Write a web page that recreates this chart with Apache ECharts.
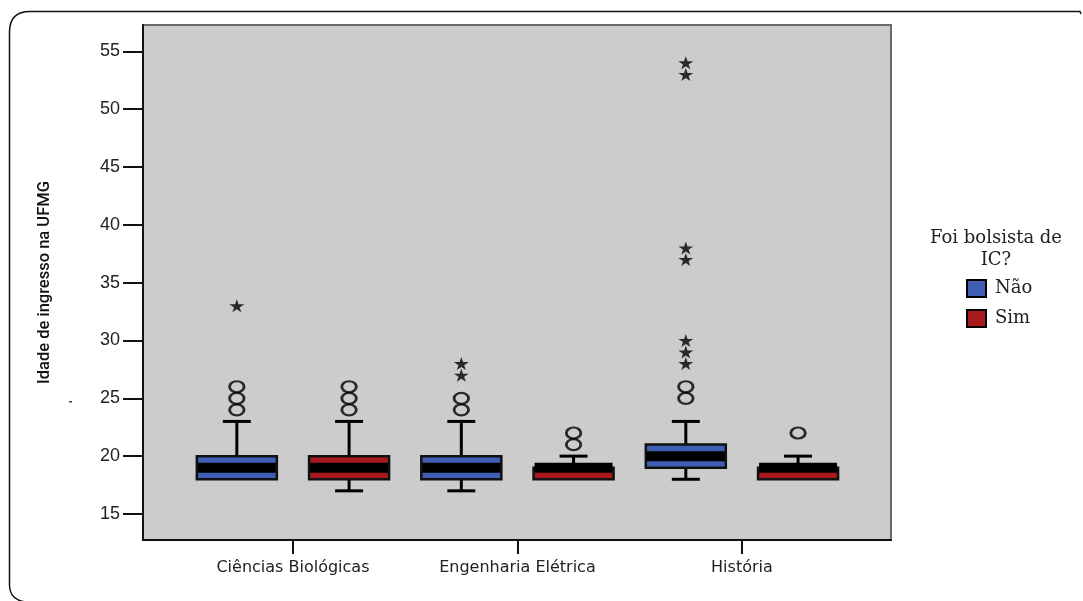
<!DOCTYPE html>
<html>
<head>
<meta charset="utf-8">
<script src="https://cdn.jsdelivr.net/npm/echarts@6/dist/echarts.min.js"></script>
<style>
html,body{margin:0;padding:0;background:#fff;}
#chart{width:1083px;height:601px;}
</style>
</head>
<body>
<div id="chart"></div>
<script>
// ---- data ----
const categories = ['Ciências Biológicas', 'Engenharia Elétrica', 'História'];
const groups = ['Não', 'Sim'];
// [low whisker, Q1, median, Q3, high whisker]
const boxNao = [[18, 18, 19, 20, 23], [17, 18, 19, 20, 23], [18, 19, 20, 21, 23]];
const boxSim = [[17, 18, 19, 20, 23], [18, 18, 19, 19, 20], [18, 18, 19, 19, 20]];
// mild outliers (circles)
const outNao = [[24, 25, 26], [24, 25], [25, 26]];
const outSim = [[24, 25, 26], [21, 22], [22]];
// extreme outliers (stars)
const extNao = [[33], [27, 28], [28, 29, 30, 37, 38, 53, 54]];
const extSim = [[], [], []];
const yTicks = [15, 20, 25, 30, 35, 40, 45, 50, 55];
const legendTitle = 'Foi bolsista de\nIC?';
const yName = 'Idade de ingresso na UFMG';

// ---- styling ----
const colors = { 'Não': '#3f5eb4', 'Sim': '#a8191d' };
const groupOffset = { 'Não': -0.25, 'Sim': 0.25 };
const boxes = { 'Não': boxNao, 'Sim': boxSim };
const outs = { 'Não': outNao, 'Sim': outSim };
const exts = { 'Não': extNao, 'Sim': extSim };
const STAR = 'path://M50,0 L61,35 L98,35 L68,57 L79,91 L50,70 L21,91 L32,57 L2,35 L39,35 Z';

function renderBox(params, api) {
  const x = api.value(0);
  const low = api.coord([x, api.value(1)]);
  const q1 = api.coord([x, api.value(2)]);
  const med = api.coord([x, api.value(3)]);
  const q3 = api.coord([x, api.value(4)]);
  const high = api.coord([x, api.value(5)]);
  const cx = q1[0];
  const half = 40, cap = 14;
  const color = api.visual('color');
  const children = [];
  const lineStyle = { stroke: '#000', lineWidth: 3 };
  if (api.value(5) > api.value(4)) {
    children.push({ type: 'line', shape: { x1: cx, y1: q3[1], x2: cx, y2: high[1] }, style: lineStyle });
    children.push({ type: 'line', shape: { x1: cx - cap, y1: high[1], x2: cx + cap, y2: high[1] }, style: lineStyle });
  }
  if (api.value(1) < api.value(2)) {
    children.push({ type: 'line', shape: { x1: cx, y1: q1[1], x2: cx, y2: low[1] }, style: lineStyle });
    children.push({ type: 'line', shape: { x1: cx - cap, y1: low[1], x2: cx + cap, y2: low[1] }, style: lineStyle });
  }
  children.push({
    type: 'rect',
    shape: { x: cx - half, y: q3[1], width: half * 2, height: q1[1] - q3[1] },
    style: { fill: color, stroke: '#111', lineWidth: 2.5 }
  });
  children.push({
    type: 'line',
    shape: { x1: cx - half + 1, y1: med[1], x2: cx + half - 1, y2: med[1] },
    style: { stroke: '#000', lineWidth: 10 }
  });
  return { type: 'group', children: children };
}

const series = [];
groups.forEach(function (g) {
  const data = boxes[g].map(function (b, i) {
    return [i + 1 + groupOffset[g]].concat(b);
  });
  series.push({
    name: g,
    type: 'custom',
    renderItem: renderBox,
    itemStyle: { color: colors[g] },
    encode: { x: 0, y: [1, 2, 3, 4, 5] },
    data: data,
    z: 2
  });
});
groups.forEach(function (g) {
  const circ = [], star = [];
  outs[g].forEach(function (arr, i) { arr.forEach(function (v) { circ.push([i + 1 + groupOffset[g], v]); }); });
  exts[g].forEach(function (arr, i) { arr.forEach(function (v) { star.push([i + 1 + groupOffset[g], v]); }); });
  series.push({
    type: 'scatter', name: g + ' outliers', data: circ, symbol: 'circle', symbolSize: [14.5, 11],
    itemStyle: { color: 'rgba(0,0,0,0)', borderColor: '#000', borderWidth: 2.5 }, z: 3, silent: true
  });
  series.push({
    type: 'scatter', name: g + ' extremes', data: star, symbol: STAR, symbolSize: [15, 13],
    itemStyle: { color: '#000' }, z: 3, silent: true
  });
});

const frameStyle = { fill: 'none', stroke: '#111', lineWidth: 1.5 };
const chart = echarts.init(document.getElementById('chart'), null, { renderer: 'canvas' });
chart.setOption({
  animation: false,
  backgroundColor: '#ffffff',
  grid: {
    left: 143, right: 192, top: 25, bottom: 61,
    show: true, backgroundColor: '#cccccc', borderColor: '#6a6a6a', borderWidth: 2
  },
  xAxis: {
    type: 'value', min: 0.332, max: 3.664,
    axisLine: { show: true, lineStyle: { color: '#111', width: 2 } },
    axisTick: { show: true, customValues: [1, 2, 3], length: 14, lineStyle: { color: '#111', width: 2 } },
    axisLabel: {
      customValues: [1, 2, 3], margin: 20,
      formatter: function (v) { return categories[Math.round(v) - 1] || ''; },
      fontFamily: 'DejaVu Sans', fontSize: 16, color: '#222'
    },
    splitLine: { show: false }
  },
  yAxis: {
    type: 'value', min: 12.75, max: 57.27,
    name: yName, nameLocation: 'middle', nameGap: 90, nameRotate: 90,
    nameTextStyle: { fontFamily: 'Roboto', fontWeight: 500, fontSize: 16.5, color: '#111' },
    axisLine: { show: true, lineStyle: { color: '#111', width: 2 } },
    axisTick: { show: true, customValues: yTicks, length: 20, lineStyle: { color: '#111', width: 2 } },
    axisLabel: {
      customValues: yTicks, margin: 23,
      fontFamily: 'Liberation Sans', fontSize: 18, color: '#222'
    },
    splitLine: { show: false }
  },
  legend: {
    data: groups.map(function (g) {
      return { name: g, icon: 'rect', itemStyle: { color: colors[g], borderColor: '#000', borderWidth: 2 } };
    }),
    orient: 'vertical', left: 961, top: 274,
    itemWidth: 19, itemHeight: 17, itemGap: 11,
    textStyle: { fontFamily: 'DejaVu Serif', fontSize: 18, color: '#222', padding: [0, 0, 0, 4] },
    selectedMode: false
  },
  graphic: [
    {
      type: 'text', x: 996, y: 227, silent: true,
      style: {
        text: legendTitle, fontFamily: 'DejaVu Serif', fontSize: 18, lineHeight: 22,
        fill: '#222', align: 'center', verticalAlign: 'top'
      }
    },
    { type: 'polyline', silent: true, shape: { points: [[9.5, 585], [9.5, 32]] }, style: frameStyle },
    { type: 'bezierCurve', silent: true, shape: { x1: 9.5, y1: 32, cpx1: 9.5, cpy1: 11.5, x2: 30, y2: 11.5 }, style: frameStyle },
    { type: 'polyline', silent: true, shape: { points: [[30, 11.5], [1080, 11.5], [1081, 14]] }, style: frameStyle },
    { type: 'bezierCurve', silent: true, shape: { x1: 9.5, y1: 585, cpx1: 9.5, cpy1: 600, x2: 26, y2: 602 }, style: frameStyle },
    { type: 'rect', silent: true, shape: { x: 69, y: 401, width: 3, height: 1.5 }, style: { fill: '#444' } }
  ],
  series: series
});
</script>
</body>
</html>
